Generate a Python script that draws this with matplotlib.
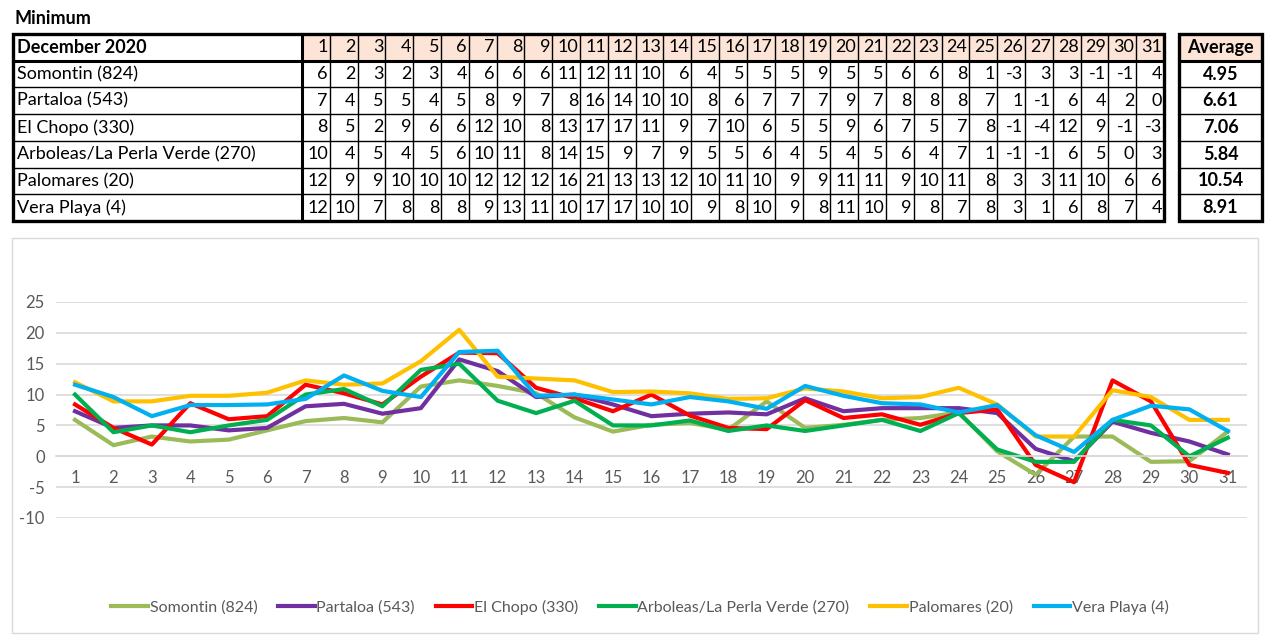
import matplotlib
matplotlib.use("Agg")
import matplotlib.pyplot as plt
from matplotlib.patches import Rectangle

plt.rcParams['font.family'] = ['Lato', 'DejaVu Sans']

# ---------------- data ----------------
title = "Minimum"
header_label = "December 2020"
days = list(range(1, 32))
stations = ["Somontin (824)", "Partaloa (543)", "El Chopo (330)",
            "Arboleas/La Perla Verde (270)", "Palomares (20)", "Vera Playa (4)"]

# rounded table values
tbl_somontin = [6, 2, 3, 2, 3, 4, 6, 6, 6, 11, 12, 11, 10, 6, 4, 5, 5, 5, 9, 5, 5, 6, 6, 8, 1, -3, 3, 3, -1, -1, 4]
tbl_partaloa = [7, 4, 5, 5, 4, 5, 8, 9, 7, 8, 16, 14, 10, 10, 8, 6, 7, 7, 7, 9, 7, 8, 8, 8, 7, 1, -1, 6, 4, 2, 0]
tbl_chopo = [8, 5, 2, 9, 6, 6, 12, 10, 8, 13, 17, 17, 11, 9, 7, 10, 6, 5, 5, 9, 6, 7, 5, 7, 8, -1, -4, 12, 9, -1, -3]
tbl_arboleas = [10, 4, 5, 4, 5, 6, 10, 11, 8, 14, 15, 9, 7, 9, 5, 5, 6, 4, 5, 4, 5, 6, 4, 7, 1, -1, -1, 6, 5, 0, 3]
tbl_palomares = [12, 9, 9, 10, 10, 10, 12, 12, 12, 16, 21, 13, 13, 12, 10, 11, 10, 9, 9, 11, 11, 9, 10, 11, 8, 3, 3, 11, 10, 6, 6]
tbl_vera = [12, 10, 7, 8, 8, 8, 9, 13, 11, 10, 17, 17, 10, 10, 9, 8, 10, 9, 8, 11, 10, 9, 8, 7, 8, 3, 1, 6, 8, 7, 4]
averages = ["4.95", "6.61", "7.06", "5.84", "10.54", "8.91"]

# unrounded values
line_somontin = [5.9, 1.8, 3.2, 2.4, 2.7, 4.2, 5.7, 6.2, 5.5, 11.3, 12.3, 11.4, 10.2, 6.3, 4.0,
                 5.1, 5.4, 4.3, 8.9, 4.6, 5.1, 5.9, 6.2, 7.1, 0.8, -3.0, 3.2, 3.2, -0.9, -0.8, 4.0]
line_partaloa = [7.3, 4.6, 5.0, 5.0, 4.2, 4.6, 8.1, 8.5, 6.9, 7.8, 15.7, 13.8, 9.6, 10.0, 8.4,
                 6.5, 6.9, 7.1, 6.8, 9.4, 7.3, 7.8, 7.8, 7.8, 7.0, 1.2, -0.8, 5.6, 3.8, 2.4, 0.3]
line_chopo = [8.4, 4.6, 1.9, 8.6, 6.0, 6.5, 11.6, 10.2, 8.4, 12.9, 16.8, 16.7, 11.1, 9.4, 7.3,
              10.0, 6.6, 4.6, 4.4, 9.1, 6.2, 6.8, 5.1, 7.0, 7.6, -1.4, -4.2, 12.3, 8.9, -1.4, -2.7]
line_arboleas = [10.0, 3.9, 5.0, 3.9, 5.0, 5.9, 10.0, 10.9, 8.1, 14.0, 15.0, 9.0, 7.0, 9.0, 5.0,
                 5.0, 5.8, 4.1, 5.0, 4.1, 5.0, 5.9, 4.1, 7.0, 1.1, -0.9, -0.9, 5.9, 5.0, 0.0, 3.0]
line_palomares = [12.0, 8.9, 8.9, 9.8, 9.8, 10.3, 12.3, 11.6, 11.8, 15.4, 20.5, 12.9, 12.6, 12.3, 10.4,
                  10.5, 10.2, 9.3, 9.4, 11.0, 10.5, 9.4, 9.6, 11.1, 8.4, 3.2, 3.2, 10.7, 9.6, 5.9, 5.9]
line_vera = [11.6, 9.6, 6.5, 8.3, 8.3, 8.4, 9.3, 13.1, 10.6, 9.6, 16.9, 17.1, 9.8, 10.0, 9.2,
             8.4, 9.6, 8.9, 7.7, 11.4, 9.8, 8.6, 8.4, 7.1, 8.3, 3.4, 0.7, 5.9, 8.2, 7.6, 4.1]

yticks = [25, 20, 15, 10, 5, 0, -5, -10]

table_rows = [tbl_somontin, tbl_partaloa, tbl_chopo, tbl_arboleas, tbl_palomares, tbl_vera]
line_rows = [line_somontin, line_partaloa, line_chopo, line_arboleas, line_palomares, line_vera]
colors = ["#9BBB59", "#7030A0", "#FF0000", "#00B050", "#FFC000", "#00B0F0"]

# ---------------- figure ----------------
W, H = 1280, 635
fig = plt.figure(figsize=(W / 100, H / 100), dpi=100)
fig.patch.set_facecolor("white")

# overlay axes in pixel coordinates for table/decor
ov = fig.add_axes([0, 0, 1, 1])
ov.set_xlim(0, W)
ov.set_ylim(H, 0)
ov.axis("off")

peach = "#FCE4D6"
fs = 13

ov.text(15, 18, title, fontsize=13, fontweight="bold", va="center", ha="left")

# table geometry
tx0, tx_name, tx1 = 13, 302, 1164
ty0 = 34
row_h = (221 - 34) / 7.0
col_w = (tx1 - tx_name) / len(days)

# header fills
ov.add_patch(Rectangle((tx_name, ty0), tx1 - tx_name, row_h, facecolor=peach, edgecolor="none", zorder=1))
ov.text(tx0 + 4, ty0 + row_h / 2, header_label, fontsize=fs, fontweight="bold", va="center", ha="left")
for j, d in enumerate(days):
    ov.text(tx_name + (j + 1) * col_w - 2, ty0 + row_h / 2, str(d), fontsize=fs, va="center", ha="right")

for i, (name, vals) in enumerate(zip(stations, table_rows)):
    yc = ty0 + (i + 1.5) * row_h
    ov.text(tx0 + 4, yc, name, fontsize=fs, va="center", ha="left")
    for j, v in enumerate(vals):
        ov.text(tx_name + (j + 1) * col_w - 2, yc, str(v), fontsize=fs, va="center", ha="right")

# thin grid lines
for j in range(1, len(days)):
    x = tx_name + j * col_w
    ov.plot([x, x], [ty0, ty0 + 7 * row_h], color="black", lw=1.0, zorder=2)
for i in range(2, 7):
    y = ty0 + i * row_h
    ov.plot([tx0, tx1], [y, y], color="black", lw=1.0, zorder=2)
# thick lines
ov.plot([tx0, tx1], [ty0 + row_h, ty0 + row_h], color="black", lw=2.2, zorder=3)
ov.plot([tx_name, tx_name], [ty0, ty0 + 7 * row_h], color="black", lw=2.2, zorder=3)
ov.add_patch(Rectangle((tx0, ty0), tx1 - tx0, 7 * row_h, facecolor="none", edgecolor="black", lw=2.4, zorder=4))

# average table
ax0, ax1 = 1179, 1262
ov.add_patch(Rectangle((ax0, ty0), ax1 - ax0, row_h, facecolor=peach, edgecolor="none", zorder=1))
ov.text((ax0 + ax1) / 2, ty0 + row_h / 2, "Average", fontsize=fs, fontweight="bold", va="center", ha="center")
for i, a in enumerate(averages):
    yc = ty0 + (i + 1.5) * row_h
    ov.text((ax0 + ax1) / 2, yc, a, fontsize=fs, fontweight="bold", va="center", ha="center")
for i in range(1, 7):
    y = ty0 + i * row_h
    ov.plot([ax0, ax1], [y, y], color="black", lw=1.0 if i > 1 else 2.2, zorder=2)
ov.add_patch(Rectangle((ax0, ty0), ax1 - ax0, 7 * row_h, facecolor="none", edgecolor="black", lw=2.4, zorder=4))

# chart frame
ov.add_patch(Rectangle((12, 238), 1246, 395, facecolor="none", edgecolor="#D9D9D9", lw=1.0, zorder=1))

# ---------------- line chart ----------------
left, right = 55.8 / W, 1247 / W
bottom, top = (H - 518) / H, (H - 302) / H
ax = fig.add_axes([left, bottom, right - left, top - bottom])
ax.set_xlim(0.5, 31.5)
ax.set_ylim(-10, 25)
ax.set_yticks(yticks)
ax.set_yticklabels([str(t) for t in yticks], fontsize=12, color="#595959")
ax.yaxis.grid(True, color="#D9D9D9", lw=1.2)
ax.set_axisbelow(True)
for s in ["top", "right", "left"]:
    ax.spines[s].set_visible(False)
ax.spines["bottom"].set_position(("data", 0))
ax.spines["bottom"].set_color("#D9D9D9")
ax.spines["bottom"].set_linewidth(1.2)
ax.set_xticks(days)
ax.set_xticklabels([str(d) for d in days], fontsize=12, color="#595959")
ax.tick_params(axis="both", length=0)
ax.tick_params(axis="x", pad=10)
ax.tick_params(axis="y", pad=8)
ax.patch.set_alpha(0)

for name, vals, c in zip(stations, line_rows, colors):
    ax.plot(days, vals, color=c, lw=3.0, label=name, solid_joinstyle="round")

leg = fig.legend(loc="center", bbox_to_anchor=(0.5, (H - 607) / H), ncol=6, frameon=False,
                 fontsize=11.5, handlelength=2.3, handletextpad=0.1, columnspacing=1.3)
for t in leg.get_texts():
    t.set_color("#595959")

fig.savefig("out.png", dpi=100, facecolor="white")
